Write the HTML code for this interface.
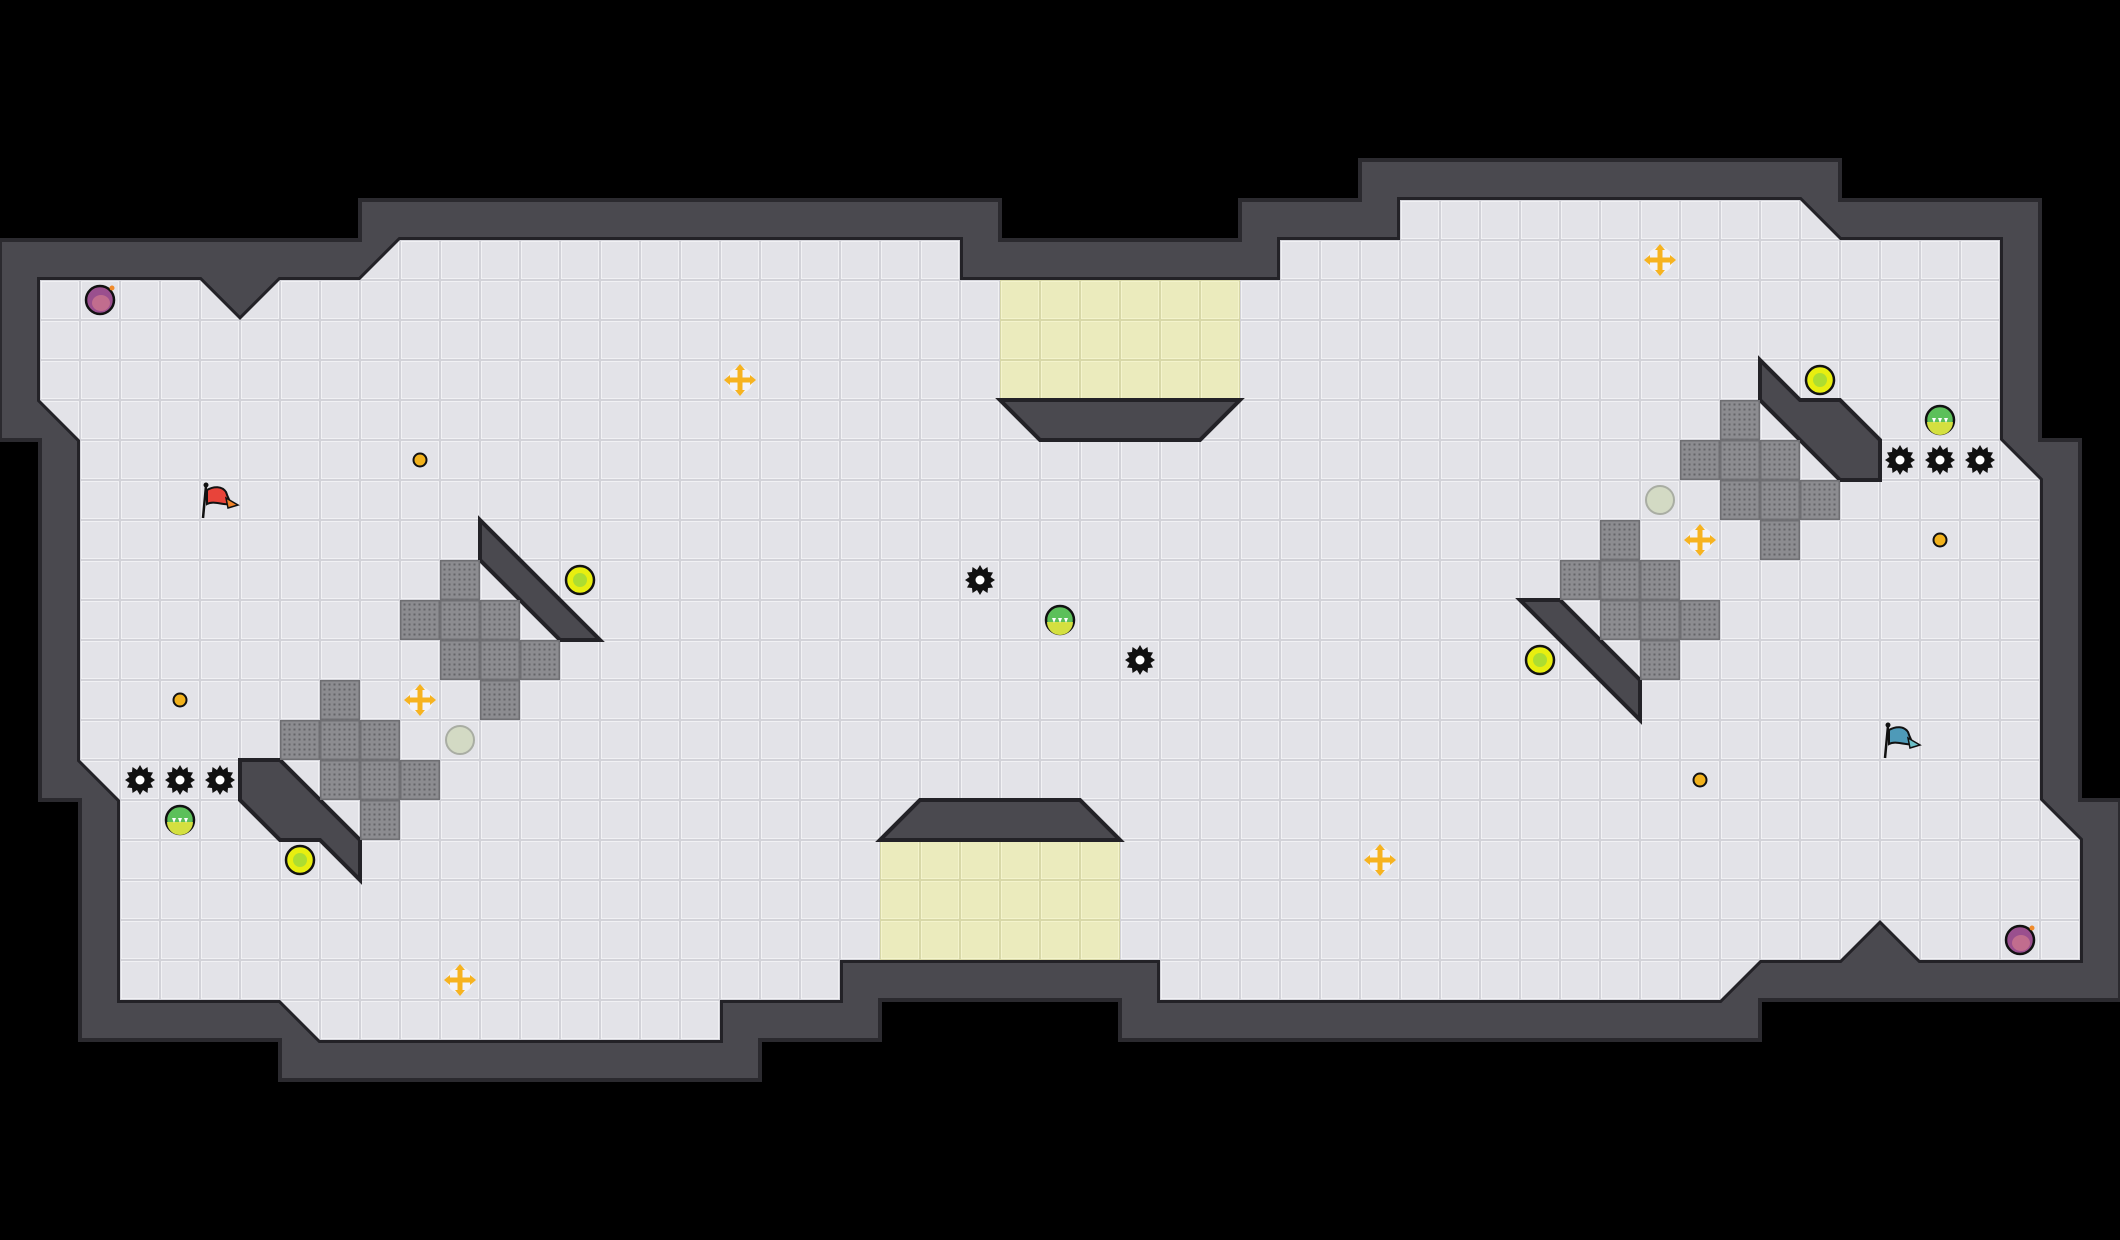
<!DOCTYPE html>
<html><head><meta charset="utf-8"><style>
html,body{margin:0;padding:0;background:#000;}
svg{display:block;}
</style></head><body>
<svg width="2120" height="1240" viewBox="0 0 2120 1240" xmlns="http://www.w3.org/2000/svg">
<defs>
<pattern id="tile" width="40" height="40" patternUnits="userSpaceOnUse">
<rect width="40" height="40" fill="#d2d2d8"/>
<rect x="1" y="1" width="38" height="38" fill="#f1f1f4"/>
<rect x="2" y="2" width="36" height="36" fill="#e3e3e8"/>
</pattern>
<pattern id="ytile" width="40" height="40" patternUnits="userSpaceOnUse">
<rect width="40" height="40" fill="#d8d8a8"/>
<rect x="1" y="1" width="38" height="38" fill="#f4f4cc"/>
<rect x="2" y="2" width="36" height="36" fill="#ebebbd"/>
</pattern>
<pattern id="dots" width="5" height="5" patternUnits="userSpaceOnUse" x="2" y="2">
<rect width="5" height="5" fill="#8c8c90"/>
<rect x="1.5" y="1.5" width="2" height="2" fill="#646468"/>
</pattern>
<g id="grate">
<rect width="40" height="40" fill="#6e6e72"/>
<rect x="1.5" y="1.5" width="37" height="37" fill="url(#dots)"/>
</g>
<g id="orb">
<circle r="14" fill="#e8ee10" stroke="#111" stroke-width="2.5"/>
<circle r="7" fill="#9dd83a" opacity="0.8"/>
</g>
<g id="gorb">
<circle r="14" fill="#5cc05a" stroke="#111" stroke-width="2.5"/>
<path d="M-13,2 A13,13 0 0 0 13,2 Z" fill="#d4e040"/>
<path d="M-8,-2 l4,0 -2,5z M-2,-2 l4,0 -2,5z M4,-2 l4,0 -2,5z" fill="#fff"/>
</g>
<g id="coin">
<circle r="6.5" fill="#f2b21c" stroke="#111" stroke-width="2"/>
</g>
<g id="saw">
<polygon fill="#111" points="0,-15 3,-10 7.5,-13 8,-8 13,-7.5 10.5,-3 15,0 10.5,3 13,7.5 8,8 7.5,13 3,10 0,15 -3,10 -7.5,13 -8,8 -13,7.5 -10.5,3 -15,0 -10.5,-3 -13,-7.5 -8,-8 -7.5,-13 -3,-10"/>
<circle r="10.5" fill="#111"/>
<circle r="4.5" fill="#fff"/>
</g>
<g id="cross">
<circle r="13" fill="#f4f4f8" opacity="0.9"/>
<g fill="#f6b320">
<rect x="-2.5" y="-12" width="5" height="24"/>
<rect x="-12" y="-2.5" width="24" height="5"/>
<polygon points="0,-16 -5,-10 5,-10"/>
<polygon points="0,16 -5,10 5,10"/>
<polygon points="-16,0 -10,-5 -10,5"/>
<polygon points="16,0 10,-5 10,5"/>
</g>
</g>
<g id="pale">
<circle r="14" fill="#d3dac4" stroke="#a9ada3" stroke-width="2"/>
</g>
<g id="bomb">
<ellipse rx="14" ry="14" fill="#9a4f8e" stroke="#111" stroke-width="2.5"/>
<ellipse rx="9" ry="8" cx="1" cy="3" fill="#d27a8e" opacity="0.7"/>
<circle cx="12" cy="-12" r="2.5" fill="#f08a2a"/>
</g>
</defs>

<!-- outer wall -->
<polygon fill="#4a494f" stroke="#2b2a2f" stroke-width="4" points="0,240 360,240 360,200 1000,200 1000,240 1240,240 1240,200 1360,200 1360,160 1840,160 1840,200 2040,200 2040,440 2080,440 2080,800 2120,800 2120,1000 1760,1000 1760,1040 1120,1040 1120,1000 880,1000 880,1040 760,1040 760,1080 280,1080 280,1040 80,1040 80,800 40,800 40,440 0,440"/>
<!-- floor -->
<polygon fill="url(#tile)" stroke="#232227" stroke-width="6" stroke-linejoin="miter" points="40,280 200,280 240,320 280,280 360,280 400,240 960,240 960,280 1280,280 1280,240 1400,240 1400,200 1800,200 1840,240 2000,240 2000,440 2040,480 2040,800 2080,840 2080,960 1920,960 1880,920 1840,960 1760,960 1720,1000 1160,1000 1160,960 840,960 840,1000 720,1000 720,1040 320,1040 280,1000 120,1000 120,800 80,760 80,440 40,400"/>
<polygon fill="url(#tile)" points="40,280 200,280 240,320 280,280 360,280 400,240 960,240 960,280 1280,280 1280,240 1400,240 1400,200 1800,200 1840,240 2000,240 2000,440 2040,480 2040,800 2080,840 2080,960 1920,960 1880,920 1840,960 1760,960 1720,1000 1160,1000 1160,960 840,960 840,1000 720,1000 720,1040 320,1040 280,1000 120,1000 120,800 80,760 80,440 40,400"/>

<!-- yellow zones -->
<rect x="1000" y="280" width="240" height="120" fill="url(#ytile)"/>
<rect x="880" y="840" width="240" height="120" fill="url(#ytile)"/>
<polygon fill="#4a494f" stroke="#232227" stroke-width="4" points="1000,400 1240,400 1200,440 1040,440"/>
<polygon fill="#4a494f" stroke="#232227" stroke-width="4" points="920,800 1080,800 1120,840 880,840"/>

<!-- slabs -->
<g fill="#4a494f" stroke="#232227" stroke-width="4" stroke-linejoin="miter">
<polygon points="480,520 600,640 560,640 480,560"/>
<polygon points="240,760 280,760 360,840 360,880 320,840 280,840 240,800"/>
<polygon points="1520,600 1560,600 1640,680 1640,720"/>
<polygon points="1760,360 1800,400 1840,400 1880,440 1880,480 1840,480 1760,400"/>
</g>

<!-- grates -->
<g>
<use href="#grate" x="440" y="560"/><use href="#grate" x="400" y="600"/><use href="#grate" x="440" y="600"/><use href="#grate" x="480" y="600"/>
<use href="#grate" x="440" y="640"/><use href="#grate" x="480" y="640"/><use href="#grate" x="520" y="640"/><use href="#grate" x="480" y="680"/>
<use href="#grate" x="320" y="680"/><use href="#grate" x="280" y="720"/><use href="#grate" x="320" y="720"/><use href="#grate" x="360" y="720"/>
<use href="#grate" x="320" y="760"/><use href="#grate" x="360" y="760"/><use href="#grate" x="400" y="760"/><use href="#grate" x="360" y="800"/>
<use href="#grate" x="1720" y="400"/><use href="#grate" x="1680" y="440"/><use href="#grate" x="1720" y="440"/><use href="#grate" x="1760" y="440"/>
<use href="#grate" x="1720" y="480"/><use href="#grate" x="1760" y="480"/><use href="#grate" x="1800" y="480"/><use href="#grate" x="1760" y="520"/>
<use href="#grate" x="1600" y="520"/><use href="#grate" x="1560" y="560"/><use href="#grate" x="1600" y="560"/><use href="#grate" x="1640" y="560"/>
<use href="#grate" x="1600" y="600"/><use href="#grate" x="1640" y="600"/><use href="#grate" x="1680" y="600"/><use href="#grate" x="1640" y="640"/>
</g>

<!-- items -->
<use href="#bomb" x="100" y="300"/><use href="#bomb" x="2020" y="940"/>
<use href="#coin" x="420" y="460"/><use href="#coin" x="180" y="700"/><use href="#coin" x="1700" y="780"/><use href="#coin" x="1940" y="540"/>
<use href="#orb" x="580" y="580"/><use href="#orb" x="300" y="860"/><use href="#orb" x="1540" y="660"/><use href="#orb" x="1820" y="380"/>
<use href="#gorb" x="1060" y="620"/><use href="#gorb" x="180" y="820"/><use href="#gorb" x="1940" y="420"/>
<use href="#saw" x="980" y="580"/><use href="#saw" x="1140" y="660"/>
<use href="#saw" x="140" y="780"/><use href="#saw" x="180" y="780"/><use href="#saw" x="220" y="780"/>
<use href="#saw" x="1900" y="460"/><use href="#saw" x="1940" y="460"/><use href="#saw" x="1980" y="460"/>
<use href="#cross" x="740" y="380"/><use href="#cross" x="420" y="700"/><use href="#cross" x="460" y="980"/>
<use href="#cross" x="1660" y="260"/><use href="#cross" x="1700" y="540"/><use href="#cross" x="1380" y="860"/>
<use href="#pale" x="460" y="740"/><use href="#pale" x="1660" y="500"/>

<!-- flags -->
<g>
<line x1="206" y1="486" x2="203" y2="518" stroke="#111" stroke-width="2.5"/>
<circle cx="206" cy="485" r="2.5" fill="#111"/>
<path d="M207,490 C214,486 222,486 226,492 C228,498 230,502 232,504 C224,506 214,500 207,504 Z" fill="#e8443a" stroke="#111" stroke-width="2"/>
<path d="M226,498 L238,505 L228,508 Z" fill="#f0842a" stroke="#111" stroke-width="1.5"/>
</g>
<g transform="translate(1682,240)">
<line x1="206" y1="486" x2="203" y2="518" stroke="#111" stroke-width="2.5"/>
<circle cx="206" cy="485" r="2.5" fill="#111"/>
<path d="M207,490 C214,486 222,486 226,492 C228,498 230,502 232,504 C224,506 214,500 207,504 Z" fill="#4e9ab8" stroke="#111" stroke-width="2"/>
<path d="M226,498 L238,505 L228,508 Z" fill="#6cc0c8" stroke="#111" stroke-width="1.5"/>
</g>
</svg>
</body></html>
